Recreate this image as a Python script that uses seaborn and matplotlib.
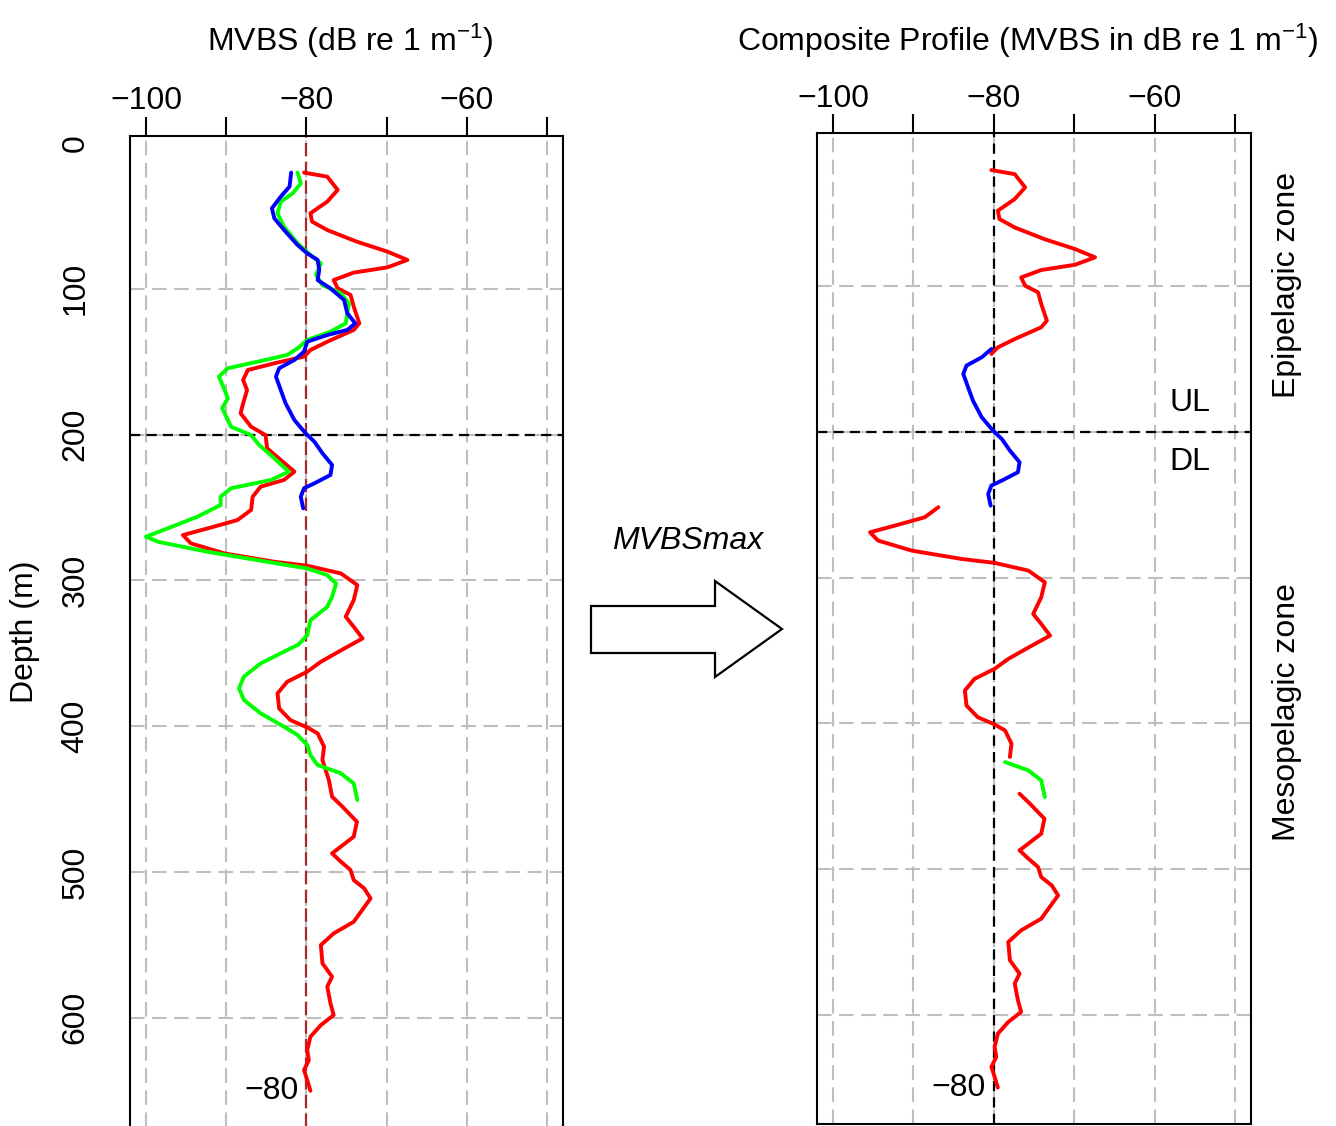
import numpy as np
import pandas as pd
import matplotlib
matplotlib.use("Agg")
import matplotlib.pyplot as plt
import seaborn as sns
from matplotlib.patches import Polygon

# ---------------- data (depth in m, MVBS in dB) ----------------
red_depth = [20.3, 23.1, 32.2, 40.2, 48.2, 53.9, 59.7, 67.7, 74.5, 80.2, 85.3, 88.9, 94.0,
             99.7, 104.2, 112.2, 123.7, 128.2, 136.3, 142.0, 146.5, 151.1, 155.7, 162.5,
             169.4, 180.8, 185.4, 194.6, 200.3, 209.4, 217.4, 225.4, 231.1, 235.7, 242.6,
             251.7, 258.6, 264.3, 268.9, 274.6, 281.5, 287.2, 289.9, 295.2, 303.2, 313.5,
             324.9, 331.8, 339.8, 348.0, 355.8, 362.6, 369.5, 377.5, 387.8, 395.8, 400.8,
             404.9, 414.0, 423.1, 436.9, 448.3, 455.2, 465.5, 475.8, 487.2, 492.9, 498.6,
             505.5, 511.2, 518.1, 534.1, 542.1, 550.1, 562.6, 571.8, 578.6, 590.1, 598.1,
             605.0, 613.0, 622.1, 629.0, 635.8, 642.7, 650.0]
red_mvbs = [-80.3, -77.4, -76.1, -77.4, -79.5, -79.3, -77.4, -73.7, -69.9, -67.4, -69.9, -74.1,
            -76.6, -76.1, -74.5, -74.1, -73.4, -74.1, -77.4, -79.5, -80.3, -84.0, -87.3, -87.9,
            -87.4, -88.0, -88.2, -86.9, -85.1, -84.9, -83.2, -81.5, -82.8, -85.7, -86.7,
            -86.9, -88.6, -92.3, -95.4, -94.4, -90.2, -84.0, -79.9, -75.7, -73.65, -74.1,
            -75.1, -74.1, -73.0, -75.7, -78.2, -79.9, -82.4, -83.6, -83.4, -82.0, -79.9,
            -78.6, -77.8, -78.0, -77.2, -76.8, -75.5, -73.7, -74.1, -76.8, -75.7, -74.5,
            -74.1, -72.8, -72.0, -74.1, -76.6, -78.2, -78.0, -76.8, -77.4, -77.0, -76.6,
            -78.2, -79.5, -79.9, -79.7, -80.3, -79.9, -79.5]

green_depth = [20.3, 27.7, 34.5, 40.2, 48.2, 57.4, 68.8, 76.8, 82.5, 90.5, 97.4, 103.1, 110.0,
               123.7, 129.4, 135.1, 140.8, 145.4, 150.0, 154.5, 160.2, 169.4, 175.1, 181.9,
               194.6, 200.3, 207.1, 216.3, 225.4, 231.1, 236.8, 242.6, 248.3, 256.3, 264.3,
               270.0, 273.5, 280.4, 286.1, 291.8, 296.4, 302.1, 311.3, 318.1, 327.3, 337.6,
               344.0, 348.9, 356.9, 366.0, 374.0, 382.0, 391.2, 400.3, 406.0, 412.9, 419.8,
               426.6, 432.3, 439.2, 450.6]
green_mvbs = [-81.1, -80.7, -81.7, -83.2, -83.6, -82.8, -81.1, -79.5, -78.2, -78.8, -78.0, -75.7,
              -74.7, -75.1, -77.0, -79.9, -81.1, -82.4, -86.1, -89.8, -90.9, -90.2, -89.8, -90.5,
              -89.4, -86.9, -85.9, -84.0, -82.2, -84.4, -89.4, -90.7, -90.7, -93.6, -97.3,
              -100.0, -98.5, -92.3, -86.1, -79.9, -77.4, -76.3, -76.8, -77.4, -79.5, -79.9,
              -81.0, -82.8, -85.7, -87.8, -88.4, -87.8, -85.7, -82.8, -81.1, -79.9, -79.5,
              -78.6, -75.7, -74.1, -73.65]

blue_depth = [20.3, 29.9, 36.8, 44.8, 51.7, 60.8, 70.0, 75.7, 80.2, 87.1, 94.0, 99.7, 107.7,
              116.8, 123.7, 128.2, 131.7, 136.3, 143.1, 148.8, 154.5, 160.2, 169.4, 178.5,
              190.0, 199.1, 204.9, 212.8, 220.8, 227.7, 233.4, 236.8, 242.6, 250.6]
blue_mvbs = [-81.9, -82.1, -83.2, -84.3, -84.0, -82.6, -81.1, -79.9, -78.6, -78.4, -78.6, -77.0,
             -75.3, -74.9, -73.9, -74.9, -77.4, -79.9, -80.3, -81.5, -83.4, -83.8, -83.2, -82.6,
             -81.5, -80.1, -79.0, -78.0, -76.8, -77.0, -79.0, -80.3, -80.7, -80.4]

# composite profile: which channel is kept over which depth range
composite_source = ["red", "blue", "red", "green", "red"]
composite_top = [20, 143, 248, 426, 448]
composite_bottom = [147, 251, 427, 451, 650]

x_ticks = [-100, -90, -80, -70, -60, -50]
x_ticklabels = ["\u2212100", "", "\u221280", "", "\u221260", ""]
depth_ticks = [0, 100, 200, 300, 400, 500, 600]
grid_depths = [100, 200, 300, 400, 500, 600]
reference_db = -80
layer_boundary = 200

# ---------------- style ----------------
sns.set_theme(style="white")
plt.rcParams["font.family"] = ["Liberation Sans", "DejaVu Sans"]
plt.rcParams["mathtext.fontset"] = "custom"
plt.rcParams["mathtext.rm"] = "Liberation Sans"
plt.rcParams["mathtext.it"] = "Liberation Sans:italic"
plt.rcParams["axes.unicode_minus"] = True
plt.rcParams["text.color"] = "black"
plt.rcParams["axes.labelcolor"] = "black"
plt.rcParams["xtick.color"] = "black"
plt.rcParams["ytick.color"] = "black"

FS = 23
LW = 2.8
colors = {"red": "#ff0000", "green": "#00ff00", "blue": "#0000ff"}

W, H = 1336, 1126
fig = plt.figure(figsize=(W / 100, H / 100), dpi=100)
fig.patch.set_facecolor("white")


def fx(px):
    return px / W


def fy(py):
    return 1 - py / H


ax1 = fig.add_axes([fx(130), fy(1127.2), (563 - 130) / W, (1127.2 - 135.7) / H])
ax2 = fig.add_axes([fx(817), fy(1124), (1251 - 817) / W, (1124 - 133.2) / H])

for ax in (ax1, ax2):
    ax.set_facecolor("white")
    ax.set_xlim(-102, -48)
    ax.set_ylim(675, -5)
    for gx in x_ticks:
        ax.axvline(gx, color="#bebebe", lw=1.5, dashes=(7.0, 3.6), zorder=1)
    for gy in grid_depths:
        ax.axhline(gy, color="#bebebe", lw=1.5, dashes=(7.0, 3.6), zorder=1)
    ax.axhline(layer_boundary, color="black", lw=1.6, dashes=(4.6, 2.8), zorder=2)
    ax.xaxis.tick_top()
    ax.set_xticks(x_ticks)
    ax.set_xticklabels(x_ticklabels)
    ax.set_yticks(depth_ticks)
    ax.tick_params(axis="both", direction="out", length=13.5, width=1.5,
                   color="black", labelsize=FS, labelcolor="black")
    ax.tick_params(axis="x", pad=0.5)
    ax.tick_params(axis="y", pad=15)
    for sp in ax.spines.values():
        sp.set_visible(True)
        sp.set_color("black")
        sp.set_linewidth(1.5)

# ---------------- left panel ----------------
ax1.axvline(reference_db, color="#a52a2a", lw=1.6, dashes=(6.0, 2.4), zorder=2)
df = pd.concat([
    pd.DataFrame({"depth": red_depth, "mvbs": red_mvbs, "channel": "red"}),
    pd.DataFrame({"depth": green_depth, "mvbs": green_mvbs, "channel": "green"}),
    pd.DataFrame({"depth": blue_depth, "mvbs": blue_mvbs, "channel": "blue"}),
], ignore_index=True)
sns.lineplot(data=df, x="mvbs", y="depth", hue="channel", hue_order=["red", "green", "blue"],
             palette=colors, sort=False, estimator=None, lw=LW, legend=False, ax=ax1,
             zorder=3, solid_capstyle="round", solid_joinstyle="round")
ax1.set_yticklabels([str(d) for d in depth_ticks])
for lab in ax1.get_yticklabels():
    lab.set_rotation(90)
    lab.set_va("center")
ax1.set_xlabel("")
ax1.set_ylabel("")
ax1.text(-81, 650, "\u221280", ha="right", va="center", fontsize=FS, color="black")

# ---------------- right panel ----------------
ax2.axvline(reference_db, color="black", lw=1.6, dashes=(4.6, 2.8), zorder=2)
sources = {"red": (red_depth, red_mvbs), "green": (green_depth, green_mvbs),
           "blue": (blue_depth, blue_mvbs)}
for src, top, bot in zip(composite_source, composite_top, composite_bottom):
    d, v = sources[src]
    d = np.asarray(d)
    v = np.asarray(v)
    m = (d >= top) & (d <= bot)
    seg = pd.DataFrame({"depth": d[m], "mvbs": v[m]})
    sns.lineplot(data=seg, x="mvbs", y="depth", color=colors[src], sort=False,
                 estimator=None, lw=LW, ax=ax2, zorder=3, solid_capstyle="round",
                 solid_joinstyle="round")
ax2.set_yticklabels([])
ax2.set_xlabel("")
ax2.set_ylabel("")
ax2.text(-81, 650, "\u221280", ha="right", va="center", fontsize=FS, color="black")
ax2.text(-55.6, 180, "UL", ha="center", va="center", fontsize=FS, color="black")
ax2.text(-55.6, 221, "DL", ha="center", va="center", fontsize=FS, color="black")

# ---------------- figure annotations ----------------
fig.text(fx(350), fy(51), "MVBS (dB re 1 m$^{-1}$)", ha="center", va="baseline", fontsize=FS)
fig.text(fx(1028), fy(51), "Composite Profile (MVBS in dB re 1 m$^{-1}$)", ha="center",
         va="baseline", fontsize=FS)
fig.text(fx(25), fy(632), "Depth (m)", rotation=90, ha="center", va="center", fontsize=FS)
fig.text(fx(1287), fy(285), "Epipelagic zone", rotation=90, ha="center", va="center",
         fontsize=FS)
fig.text(fx(1287), fy(712), "Mesopelagic zone", rotation=90, ha="center", va="center",
         fontsize=FS)
fig.text(fx(688), fy(549), "MVBSmax", style="italic", ha="center", va="baseline", fontsize=FS)

arrow_px = [(591, 606), (715, 606), (715, 581), (782, 629), (715, 677), (715, 653), (591, 653)]
fig.patches.append(Polygon([(fx(x), fy(y)) for x, y in arrow_px], closed=True,
                           transform=fig.transFigure, facecolor="white", edgecolor="black",
                           lw=1.6, zorder=5))

fig.savefig("out.png", dpi=100, facecolor="white")
